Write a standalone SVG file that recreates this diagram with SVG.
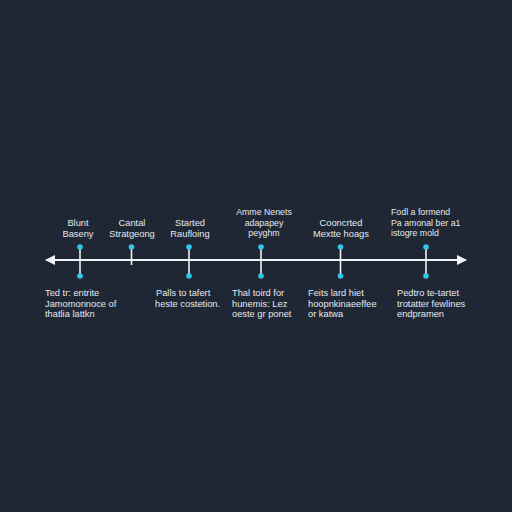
<svg xmlns="http://www.w3.org/2000/svg" width="512" height="512" viewBox="0 0 512 512">
<defs>
<style>
.t{font-family:"Liberation Sans",Arial,sans-serif;font-size:9.3px;fill:#e4e9ef}
.s{font-size:8.8px}
.c{text-anchor:middle}
.ax{stroke:#eef2f6;stroke-width:2;fill:none}
.tk{stroke:#eef2f6;stroke-width:1.6}
.d{fill:#35c6e8}
</style>
<marker id="ah" viewBox="0 0 10 10" refX="9" refY="5" markerWidth="5" markerHeight="5" orient="auto-start-reverse" markerUnits="strokeWidth">
<path d="M0,0 L10,5 L0,10 z" fill="#eef2f6"/>
</marker>
</defs>
<rect width="512" height="512" fill="#1f2634"/>
<g id="connectors">
<line class="ax" x1="46" y1="260" x2="466" y2="260" marker-start="url(#ah)" marker-end="url(#ah)"/>
</g>
<g id="e1">
<line class="tk" x1="80" y1="247" x2="80" y2="276"/>
<circle class="d" cx="80" cy="247" r="2.8"/><circle class="d" cx="80" cy="276" r="2.8"/>
<text class="t c" x="78" y="226">Blunt</text><text class="t c" x="78" y="236.5">Baseny</text>
<text class="t" x="45" y="296">Ted tr: entrite</text><text class="t" x="45" y="306.5">Jamomonnoce of</text><text class="t" x="45" y="317">thatlia lattkn</text>
</g>
<g id="e2">
<line class="tk" x1="131.5" y1="247" x2="131.5" y2="265"/>
<circle class="d" cx="131.5" cy="247" r="2.8"/>
<text class="t c" x="132" y="226">Cantal</text><text class="t c" x="132" y="236.5">Stratgeong</text>
</g>
<g id="e3">
<line class="tk" x1="189" y1="247" x2="189" y2="276"/>
<circle class="d" cx="189" cy="247" r="2.8"/><circle class="d" cx="189" cy="276" r="2.8"/>
<text class="t c" x="190" y="226">Started</text><text class="t c" x="190" y="236.5">Raufloing</text>
<text class="t" x="156" y="296">Palls to tafert</text><text class="t" x="155" y="306.5">heste costetion.</text>
</g>
<g id="e4">
<line class="tk" x1="261" y1="247" x2="261" y2="276"/>
<circle class="d" cx="261" cy="247" r="2.8"/><circle class="d" cx="261" cy="276" r="2.8"/>
<text class="t s c" x="264" y="215">Amme Nenets</text><text class="t s c" x="264" y="225.5">adapapey</text><text class="t s c" x="264" y="236">peyghm</text>
<text class="t" x="232" y="296">Thal toird for</text><text class="t" x="232" y="306.5">hunemis: Lez</text><text class="t" x="232" y="317">oeste gr ponet</text>
</g>
<g id="e5">
<line class="tk" x1="340.5" y1="247" x2="340.5" y2="276"/>
<circle class="d" cx="340.5" cy="247" r="2.8"/><circle class="d" cx="340.5" cy="276" r="2.8"/>
<text class="t c" x="341" y="226">Cooncrted</text><text class="t c" x="341" y="236.5">Mextte hoags</text>
<text class="t" x="308" y="296">Feits lard hiet</text><text class="t" x="308" y="306.5">hoopnkinaeeffee</text><text class="t" x="308" y="317">or katwa</text>
</g>
<g id="e6">
<line class="tk" x1="426" y1="247" x2="426" y2="276"/>
<circle class="d" cx="426" cy="247" r="2.8"/><circle class="d" cx="426" cy="276" r="2.8"/>
<text class="t s" x="391" y="215">Fodl a formend</text><text class="t s" x="391" y="225.5">Pa amonal ber a1</text><text class="t s" x="391" y="236">istogre mold</text>
<text class="t" x="397" y="296">Pedtro te-tartet</text><text class="t" x="397" y="306.5">trotatter fewlines</text><text class="t" x="397" y="317">endpramen</text>
</g>
</svg>
